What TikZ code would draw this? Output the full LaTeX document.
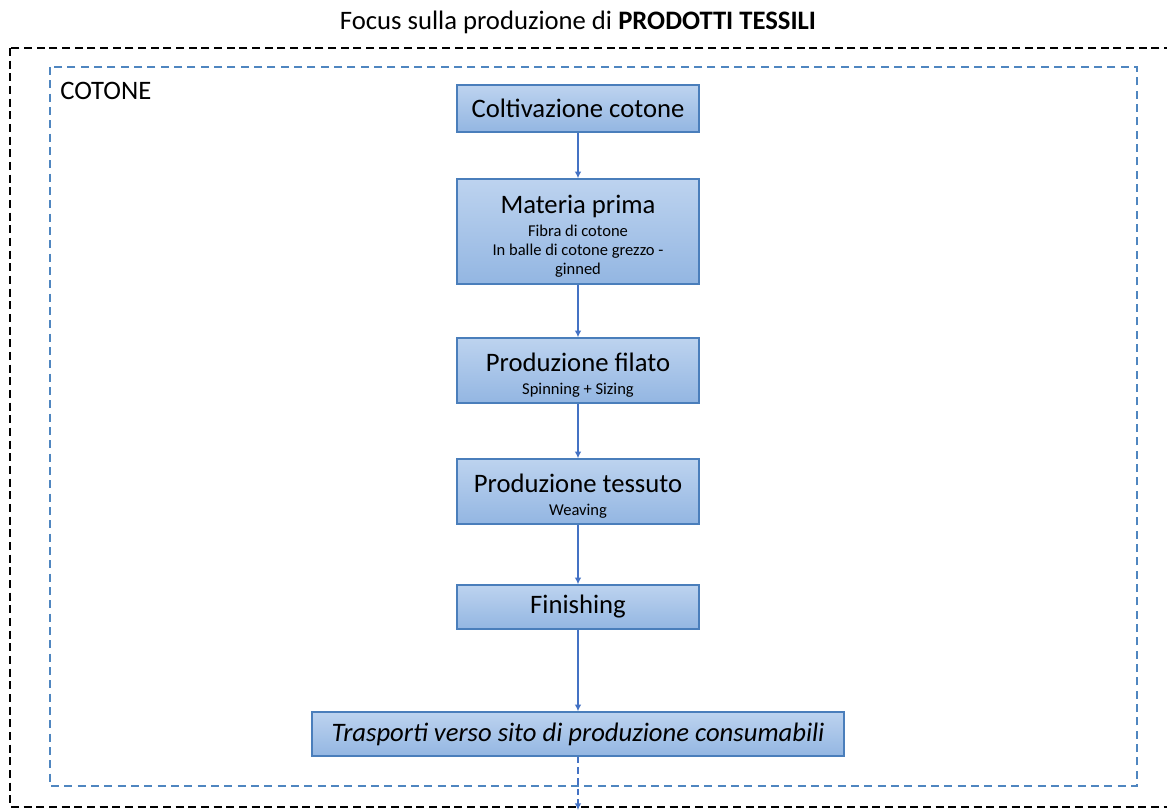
\documentclass[tikz,border=0pt]{standalone}
\usepackage{fontspec}
\setmainfont{Carlito}
\usepackage{tikz}
\usetikzlibrary{positioning,arrows.meta}
\definecolor{boxline}{HTML}{4A7EBB}
\definecolor{boxtop}{HTML}{BDD3EF}
\definecolor{boxbottom}{HTML}{93B6E2}
\definecolor{arrowblue}{HTML}{4472C4}
\definecolor{dashblue}{HTML}{4F86C0}
\newcommand{\subtext}[1]{{\fontsize{12.4}{14.3}\selectfont #1}}
\newcommand{\toprule}{\rule{0pt}{21pt}}
\tikzset{
  stepbox/.style={draw=boxline, line width=1.1pt, top color=boxtop, bottom color=boxbottom,
    minimum width=181.5pt, align=center, inner sep=0pt, font=\fontsize{20}{14.3}\selectfont},
  flow/.style={draw=arrowblue, line width=1.3pt, -{Latex[length=5pt,width=5pt]}},
  outerframe/.style={draw=black, line width=1.5pt, dash pattern=on 6pt off 3.5pt},
  innerframe/.style={draw=dashblue, line width=1.5pt, dash pattern=on 6pt off 4pt}
}

\begin{document}
\begin{tikzpicture}[x=0.75pt, y=-0.75pt]
\useasboundingbox (0,0) rectangle (1167,812);
\clip (0,0) rectangle (1167,812);
\draw[outerframe] (10,48) rectangle (1200,807);
\draw[innerframe] (50,67) rectangle (1137,786);
\node[font=\fontsize{20}{24}\selectfont] (titolo) at (578,22) {Focus sulla produzione di \textbf{PRODOTTI TESSILI}};
\node[anchor=west, inner sep=0pt, font=\fontsize{20}{24}\selectfont] (cotone) at (60,91) {COTONE};

\node[stepbox, minimum height=35.25pt] (coltivazione) at (578,108.5) {Coltivazione cotone};
\node[stepbox, minimum height=78.75pt] (materia) at (578,231.5) {\toprule Materia prima\\[3pt]
  \subtext{Fibra di cotone}\\\subtext{In balle di cotone grezzo -}\\\subtext{ginned}};
\node[stepbox, minimum height=48.75pt] (filato) at (578,370.5) {\toprule Produzione filato\\[3.5pt]\subtext{Spinning + Sizing}};
\node[stepbox, minimum height=48.75pt] (tessuto) at (578,491.5) {\toprule Produzione tessuto\\[3.5pt]\subtext{Weaving}};
\node[stepbox, minimum height=33pt] (finishing) at (578,607) {Finishing};
\node[stepbox, minimum height=33pt, minimum width=399pt] (trasporti) at (578,734) {\itshape Trasporti verso sito di produzione consumabili};
\coordinate (uscita) at (578,810);

\draw[flow] (coltivazione) -- (materia);
\draw[flow] (materia) -- (filato);
\draw[flow] (filato) -- (tessuto);
\draw[flow] (tessuto) -- (finishing);
\draw[flow] (finishing) -- (trasporti);
\draw[flow, dash pattern=on 5pt off 3pt] (trasporti) -- (uscita);
\end{tikzpicture}
\end{document}
